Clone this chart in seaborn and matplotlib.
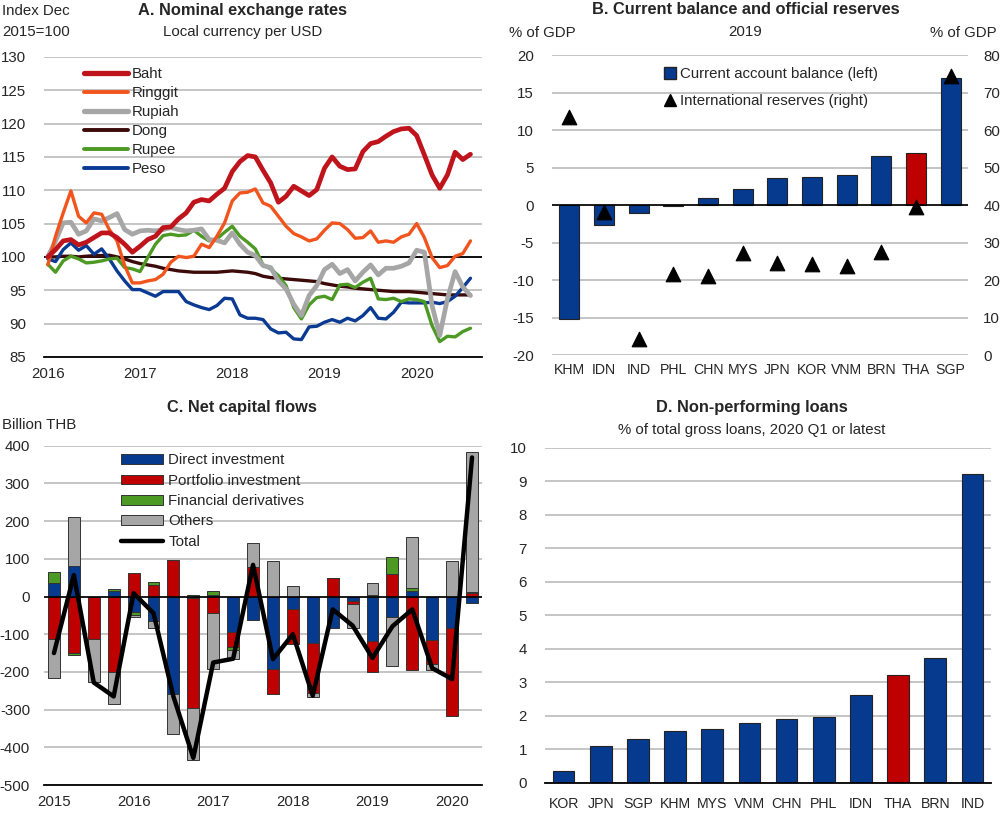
import matplotlib
matplotlib.use("Agg")
import numpy as np
import pandas as pd
import seaborn as sns
import matplotlib.pyplot as plt
from matplotlib.lines import Line2D
from matplotlib.patches import Patch

sns.set_style("white")
plt.rcParams["font.family"] = ["Liberation Sans", "DejaVu Sans"]
plt.rcParams["axes.unicode_minus"] = False

# ---------------- Panel A data (monthly, Jan 2016 - Aug 2020) ----------------
year_labels_a = ["2016", "2017", "2018", "2019", "2020"]
baht = [100.0, 101.1, 102.4, 102.6, 101.8, 102.2, 102.9, 103.6, 103.6, 102.9, 101.9, 100.7,
        101.6, 102.6, 103.1, 104.4, 104.5, 105.7, 106.6, 108.2, 108.6, 108.4, 109.4, 110.3,
        112.8, 114.3, 115.2, 115.0, 113.0, 111.1, 108.2, 109.1, 110.6, 109.9, 109.2, 110.1,
        113.3, 115.0, 113.6, 113.1, 113.2, 115.8, 117.0, 117.3, 118.1, 118.8, 119.2, 119.3,
        118.2, 115.3, 112.3, 110.3, 112.3, 115.7, 114.6, 115.4]
ringgit = [98.8, 103.1, 106.6, 109.9, 106.1, 105.1, 106.6, 106.4, 104.1, 102.4, 98.7, 96.1,
           96.1, 96.4, 96.6, 97.4, 99.2, 100.1, 99.9, 100.1, 101.9, 101.4, 103.1, 105.1,
           108.4, 109.6, 109.7, 110.2, 108.1, 107.6, 106.1, 104.6, 103.5, 103.0, 102.4, 102.7,
           104.0, 105.1, 105.0, 104.1, 102.8, 102.9, 103.9, 102.2, 102.4, 102.2, 103.0, 103.4,
           105.0, 102.9, 99.9, 98.4, 98.7, 100.1, 100.5, 102.4]
rupiah = [100.0, 102.4, 105.1, 105.2, 103.4, 103.9, 105.7, 105.4, 105.9, 106.5, 104.1, 103.4,
          103.9, 104.0, 103.9, 104.1, 104.4, 104.1, 103.9, 104.0, 104.2, 102.6, 102.5, 102.1,
          103.6, 101.9, 100.7, 100.2, 98.7, 98.4, 96.4, 95.2, 92.9, 91.2, 94.2, 95.7,
          98.1, 98.9, 97.5, 98.1, 96.4, 97.7, 98.8, 97.3, 98.3, 98.3, 98.6, 99.1,
          101.0, 100.7, 92.7, 88.2, 93.7, 97.8, 95.5, 94.2]
dong = [100.0, 100.0, 100.1, 100.1, 100.0, 100.1, 100.2, 100.2, 100.25, 100.0, 99.7, 99.3,
        99.0, 98.8, 98.6, 98.3, 98.1, 97.9, 97.8, 97.7, 97.7, 97.7, 97.7, 97.8,
        97.9, 97.8, 97.7, 97.5, 97.1, 96.9, 96.8, 96.7, 96.6, 96.5, 96.4, 96.3,
        96.0, 95.8, 95.6, 95.5, 95.3, 95.2, 95.1, 95.0, 94.9, 94.8, 94.8, 94.8,
        94.7, 94.6, 94.5, 94.4, 94.3, 94.3, 94.3, 94.3]
rupee = [98.9, 97.7, 99.4, 100.1, 99.7, 99.1, 99.2, 99.4, 99.7, 99.8, 98.4, 98.2,
         97.8, 99.9, 101.9, 103.2, 103.4, 103.2, 103.3, 104.0, 103.1, 102.4, 102.7, 103.7,
         104.6, 103.1, 102.2, 101.2, 98.8, 98.2, 97.2, 95.7, 92.4, 90.7, 92.8, 93.9,
         94.1, 93.6, 95.8, 95.9, 95.4, 96.2, 96.8, 93.7, 93.6, 93.8, 93.3, 93.7,
         93.6, 93.3, 89.7, 87.3, 88.1, 88.0, 88.8, 89.3]
peso = [99.7, 99.3, 101.1, 102.1, 101.0, 101.7, 100.4, 101.2, 99.7, 97.9, 96.4, 95.1,
        95.1, 94.6, 94.1, 94.8, 94.8, 94.8, 93.3, 92.8, 92.4, 92.1, 92.7, 93.8,
        93.7, 91.3, 90.8, 90.8, 90.6, 89.2, 88.6, 88.7, 87.7, 87.6, 89.5, 89.6,
        90.2, 90.6, 90.2, 90.8, 90.4, 91.2, 92.4, 90.8, 90.7, 91.7, 93.2, 93.1,
        93.1, 93.1, 93.2, 93.0, 93.3, 94.1, 95.4, 96.8]

# ---------------- Panel B data ----------------
b_countries = ["KHM", "IDN", "IND", "PHL", "CHN", "MYS", "JPN", "KOR", "VNM", "BRN", "THA", "SGP"]
current_account = [-15.2, -2.7, -1.1, -0.1, 1.0, 2.1, 3.6, 3.7, 4.0, 6.6, 7.0, 17.0]
reserves = [63.4, 38.2, 4.2, 21.6, 21.1, 27.1, 24.6, 24.4, 23.7, 27.4, 39.4, 74.4]

# ---------------- Panel C data (quarterly, 2015Q1 - 2020Q2) ----------------
year_labels_c = ["2015", "2016", "2017", "2018", "2019", "2020"]
direct_inv = [35, 81, 0, 15, -42, -66, -258, -3, 5, -95, -62, -192, -34, -124, -84, -12,
              -119, -53, 15, -115, -84, -16]
portfolio_inv = [-112, -150, -112, -199, 62, 31, 97, -293, -44, -39, 79, -66, -92, -131, 49, -8,
                 -81, 59, -194, -64, -232, 9]
fin_deriv = [31, -6, 0, 4, -8, 7, 0, 5, 10, -7, 0, 0, 0, 0, 0, 0,
             5, 45, 7, 0, 0, 4]
others = [-104, 130, -116, -86, -5, -18, -106, -137, -148, -24, 64, 94, 28, -11, 0, -64,
          31, -132, 137, -16, 94, 371]
total = [-150, 57, -228, -265, 9, -44, -265, -428, -175, -165, 84, -166, -100, -263, -34, -77,
         -163, -79, -34, -190, -219, 369]

# ---------------- Panel D data ----------------
d_countries = ["KOR", "JPN", "SGP", "KHM", "MYS", "VNM", "CHN", "PHL", "IDN", "THA", "BRN", "IND"]
npl = [0.36, 1.1, 1.3, 1.55, 1.59, 1.79, 1.91, 1.97, 2.62, 3.2, 3.71, 9.23]

# ---------------- styles ----------------
BLUE = "#063a8f"
RED = "#bf0000"
GREEN = "#4c9a24"
GRAY = "#a6a6a6"
GRID = "#c0c0c0"
EDGE = "#222222"
FS = 10.8
TFS = 11.8

fig = plt.figure(figsize=(10, 8.13), dpi=100)
axA = fig.add_axes([0.044, 0.561, 0.438, 0.369])
axB = fig.add_axes([0.552, 0.5633, 0.416, 0.369])
axC = fig.add_axes([0.044, 0.0344, 0.438, 0.4173])
axD = fig.add_axes([0.545, 0.0373, 0.446, 0.412])


def style_grid(ax):
    ax.yaxis.grid(True, color=GRID, lw=1.3)
    ax.xaxis.grid(False)
    ax.set_axisbelow(True)
    for s in ["top", "right", "left"]:
        ax.spines[s].set_visible(False)


# ---------------- Panel A ----------------
series_a = [("Baht", baht, "#c0141c", 3.4),
            ("Ringgit", ringgit, "#f2541d", 2.4),
            ("Rupiah", rupiah, "#a6a6a6", 3.4),
            ("Dong", dong, "#3d0a0a", 2.4),
            ("Rupee", rupee, "#4c9a24", 2.4),
            ("Peso", peso, "#0a3a92", 2.4)]
style_grid(axA)
axA.axhline(100, color="black", lw=1.3, zorder=2)
for k in [3, 5, 4, 2, 1, 0]:
    name, vals, col, lw = series_a[k]
    sns.lineplot(x=np.arange(len(vals)), y=vals, color=col, lw=lw, ax=axA)
handles_a = [Line2D([], [], color=col, lw=lw + 0.4) for name, vals, col, lw in series_a]
n_months = len(baht)
axA.set_xlim(-0.5, n_months + 0.5)
axA.set_ylim(85, 130)
axA.set_yticks(np.arange(85, 131, 5))
axA.set_xticks(np.arange(-0.5, n_months + 0.6, 3))
axA.set_xticks(np.arange(0, n_months, 12), minor=True)
axA.set_xticklabels([])
axA.set_xticklabels(year_labels_a, minor=True)
axA.tick_params(axis="x", which="major", direction="in", length=5, width=1.2, color="black")
axA.tick_params(axis="x", which="minor", length=0, pad=7, labelsize=FS)
axA.tick_params(axis="y", length=0, pad=13, labelsize=FS)
axA.spines["bottom"].set_color("black")
axA.spines["bottom"].set_linewidth(1.3)
axA.set_xlabel("")
axA.set_ylabel("")
axA.legend(handles_a, [s[0] for s in series_a], loc="upper left", bbox_to_anchor=(0.078, 0.985),
           frameon=False, handlelength=2.9, handletextpad=0.25, labelspacing=0.33,
           fontsize=FS, borderaxespad=0.0)

fig.text(0.243, 1 - 10 / 813, "A. Nominal exchange rates", ha="center", va="center",
         fontsize=TFS, weight="bold")
fig.text(0.243, 1 - 32 / 813, "Local currency per USD", ha="center", va="center", fontsize=FS)
fig.text(0.002, 1 - 11 / 813, "Index Dec", ha="left", va="center", fontsize=FS)
fig.text(0.002, 1 - 32 / 813, "2015=100", ha="left", va="center", fontsize=FS)

# ---------------- Panel B ----------------
pal_b = {c: (RED if c == "THA" else BLUE) for c in b_countries}
sns.barplot(x=b_countries, y=current_account, hue=b_countries, palette=pal_b, legend=False,
            width=0.58, saturation=1, edgecolor=EDGE, linewidth=0.8, ax=axB, zorder=2)
style_grid(axB)
axB.spines["bottom"].set_visible(False)
axB.axhline(0, color="black", lw=1.2, zorder=3)
axB.set_ylim(-20, 20)
axB.set_yticks(np.arange(-20, 21, 5))
axB.set_xlim(-0.5, len(b_countries) - 0.5)
axB.tick_params(axis="y", length=0, pad=13, labelsize=FS)
axB.tick_params(axis="x", length=0, pad=6, labelsize=FS - 0.6)
axB.set_xlabel("")
axB.set_ylabel("")
axB2 = axB.twinx()
sns.scatterplot(x=np.arange(len(b_countries)), y=reserves, marker="^", color="black", s=110,
                edgecolor="black", ax=axB2, zorder=5)
axB2.set_ylim(0, 80)
axB2.set_yticks(np.arange(0, 81, 10))
axB2.tick_params(axis="y", length=0, pad=11, labelsize=FS)
for s in axB2.spines.values():
    s.set_visible(False)
axB2.set_ylabel("")
axB2.grid(False)
handles_b = [Line2D([], [], marker="s", ls="none", color=BLUE, markeredgecolor=EDGE, markersize=8),
             Line2D([], [], marker="^", ls="none", color="black", markersize=9)]
axB.legend(handles_b, ["Current account balance (left)", "International reserves (right)"],
           loc="upper left", bbox_to_anchor=(0.255, 0.98), frameon=False, handlelength=0.8,
           handletextpad=0.25, labelspacing=0.85, fontsize=FS, borderaxespad=0.0)

fig.text(0.7455, 1 - 10 / 813, "B. Current balance and official reserves", ha="center",
         va="center", fontsize=TFS, weight="bold")
fig.text(0.7455, 1 - 32 / 813, "2019", ha="center", va="center", fontsize=FS)
fig.text(0.509, 1 - 33 / 813, "% of GDP", ha="left", va="center", fontsize=FS)
fig.text(0.997, 1 - 33 / 813, "% of GDP", ha="right", va="center", fontsize=FS)

# ---------------- Panel C ----------------
style_grid(axC)
xq = np.arange(len(total))
pos_b = np.zeros(len(total))
neg_b = np.zeros(len(total))
comp_list = [("Direct investment", direct_inv, BLUE),
             ("Portfolio investment", portfolio_inv, RED),
             ("Financial derivatives", fin_deriv, GREEN),
             ("Others", others, GRAY)]
for name, vals, col in comp_list:
    v = np.array(vals, dtype=float)
    bottoms = np.where(v >= 0, pos_b, neg_b)
    axC.bar(xq, v, bottom=bottoms, width=0.6, color=col, edgecolor="#333333", linewidth=0.7,
            zorder=2)
    pos_b = pos_b + np.where(v >= 0, v, 0)
    neg_b = neg_b + np.where(v < 0, v, 0)
axC.axhline(0, color="black", lw=1.2, zorder=3)
sns.lineplot(x=xq, y=total, color="black", lw=3.2, ax=axC, zorder=4)
axC.set_xlim(-0.5, len(total) - 0.5)
axC.set_ylim(-500, 400)
axC.set_yticks(np.arange(-500, 401, 100))
axC.set_xticks(np.arange(-0.5, len(total), 1))
axC.set_xticks(np.arange(0, len(total), 4), minor=True)
axC.set_xticklabels([])
axC.set_xticklabels(year_labels_c, minor=True)
axC.tick_params(axis="x", which="major", direction="in", length=5, width=1.2, color="black")
axC.tick_params(axis="x", which="minor", length=0, pad=7, labelsize=FS)
axC.tick_params(axis="y", length=0, pad=10, labelsize=FS)
axC.spines["bottom"].set_color("black")
axC.spines["bottom"].set_linewidth(1.3)
axC.set_xlabel("")
axC.set_ylabel("")
handles_c = [Patch(facecolor=c, edgecolor="#333333", lw=0.7) for _, _, c in comp_list]
handles_c.append(Line2D([], [], color="black", lw=3.2))
axC.legend(handles_c, [n for n, _, _ in comp_list] + ["Total"], loc="upper left",
           bbox_to_anchor=(0.162, 0.995), frameon=False, handlelength=2.8, handleheight=0.6,
           handletextpad=0.35, labelspacing=0.42, fontsize=FS, borderaxespad=0.0)

fig.text(0.242, 1 - 407 / 813, "C. Net capital flows", ha="center", va="center",
         fontsize=TFS, weight="bold")
fig.text(0.002, 1 - 425 / 813, "Billion THB", ha="left", va="center", fontsize=FS)

# ---------------- Panel D ----------------
pal_d = {c: (RED if c == "THA" else BLUE) for c in d_countries}
sns.barplot(x=d_countries, y=npl, hue=d_countries, palette=pal_d, legend=False, width=0.58,
            saturation=1, edgecolor=EDGE, linewidth=0.8, ax=axD, zorder=2)
style_grid(axD)
axD.spines["bottom"].set_color("black")
axD.spines["bottom"].set_linewidth(1.3)
axD.set_ylim(0, 10)
axD.set_yticks(np.arange(0, 11, 1))
axD.set_xlim(-0.5, len(d_countries) - 0.5)
axD.tick_params(axis="y", length=0, pad=13, labelsize=FS)
axD.tick_params(axis="x", length=0, pad=10, labelsize=FS - 0.6)
axD.set_xlabel("")
axD.set_ylabel("")

fig.text(0.752, 1 - 407 / 813, "D. Non-performing loans", ha="center", va="center",
         fontsize=TFS, weight="bold")
fig.text(0.752, 1 - 430 / 813, "% of total gross loans, 2020 Q1 or latest", ha="center",
         va="center", fontsize=FS)

fig.savefig("out.png", dpi=100)
